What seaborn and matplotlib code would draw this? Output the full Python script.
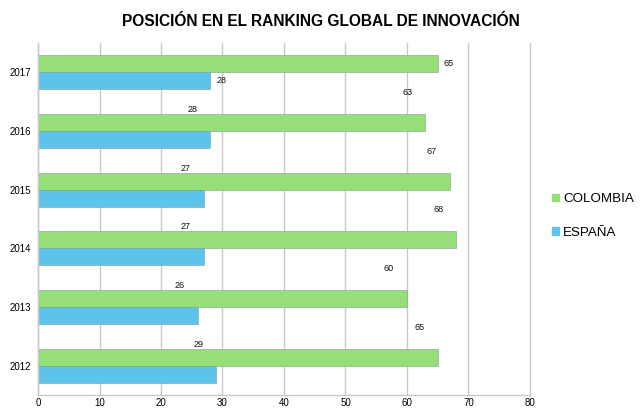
import numpy as np
import pandas as pd
import matplotlib
matplotlib.use("Agg")
import matplotlib.pyplot as plt
import matplotlib.patches as mpatches
import seaborn as sns

# ── Data ─────────────────────────────────────
years     = ["2017", "2016", "2015", "2014", "2013", "2012"]
colombia  = [65, 63, 67, 68, 60, 65]
espana    = [28, 28, 27, 27, 26, 29]
series    = ["COLOMBIA", "ESPAÑA"]
x_ticks   = [0, 10, 20, 30, 40, 50, 60, 70, 80]

df = pd.DataFrame({
    "year":  years * 2,
    "value": colombia + espana,
    "pais":  [series[0]] * len(years) + [series[1]] * len(years),
})

sns.set_style("white")
plt.rcParams["font.family"] = ["Liberation Sans", "DejaVu Sans"]
plt.rcParams["text.color"] = "black"
plt.rcParams["xtick.color"] = "black"
plt.rcParams["ytick.color"] = "black"

palette = {"COLOMBIA": "#95de78", "ESPAÑA": "#5cc4ea"}

fig = plt.figure(figsize=(6.41, 4.09), dpi=100)
ax = fig.add_axes([0.0593, 0.0342, 0.7675, 0.8607])

sns.barplot(data=df, x="value", y="year", hue="pais", order=years,
            hue_order=series, palette=palette, orient="h", width=0.58,
            gap=0, saturation=1, linewidth=0, legend=False, ax=ax)

# light shadow edge round the bars
for bar in ax.patches:
    bar.set_edgecolor("#7f9f8f")
    bar.set_linewidth(0.4)

ax.set_xlim(0, 80)
ax.set_ylim(5.5, -0.5)
ax.set_xticks(x_ticks)
ax.set_xlabel("")
ax.set_ylabel("")
ax.xaxis.grid(True, color="#c8c8c8", linewidth=1.0)
for gl in ax.xaxis.get_gridlines():
    gl.set_clip_on(False)
ax.set_axisbelow(True)
for side in ["top", "right"]:
    ax.spines[side].set_visible(False)
for side in ["left", "bottom"]:
    ax.spines[side].set_color("#c8c8c8")
    ax.spines[side].set_linewidth(1.0)
ax.tick_params(axis="x", length=0, pad=2, labelsize=7)
ax.tick_params(axis="y", length=0, pad=5, labelsize=7)

# ── Value labels (drifting like in the original export) ──
for vals, cont in zip([colombia, espana], ax.containers):
    for i, (v, bar) in enumerate(zip(vals, cont)):
        yc = bar.get_y() + bar.get_height() / 2
        if i == 0:
            off = (8, 0)
        else:
            off = (-13, 21.5)
        ax.annotate(str(v), (v, yc), xytext=off, textcoords="offset points",
                    ha="center", va="center", fontsize=6.5, color="#111111")

ax.set_title("POSICIÓN EN EL RANKING GLOBAL DE INNOVACIÓN",
             fontsize=11.2, fontweight="bold", pad=12, x=0.575)

# ── Legend ───────────────────────────────────
handles = [mpatches.Patch(color=palette[s], label=s) for s in series]
fig.legend(handles=handles, loc="center left", bbox_to_anchor=(0.843, 0.472),
           frameon=False, fontsize=9.6, handlelength=0.5, handleheight=0.5,
           handletextpad=0.3, labelspacing=1.6)

fig.savefig("out.png", dpi=100)
